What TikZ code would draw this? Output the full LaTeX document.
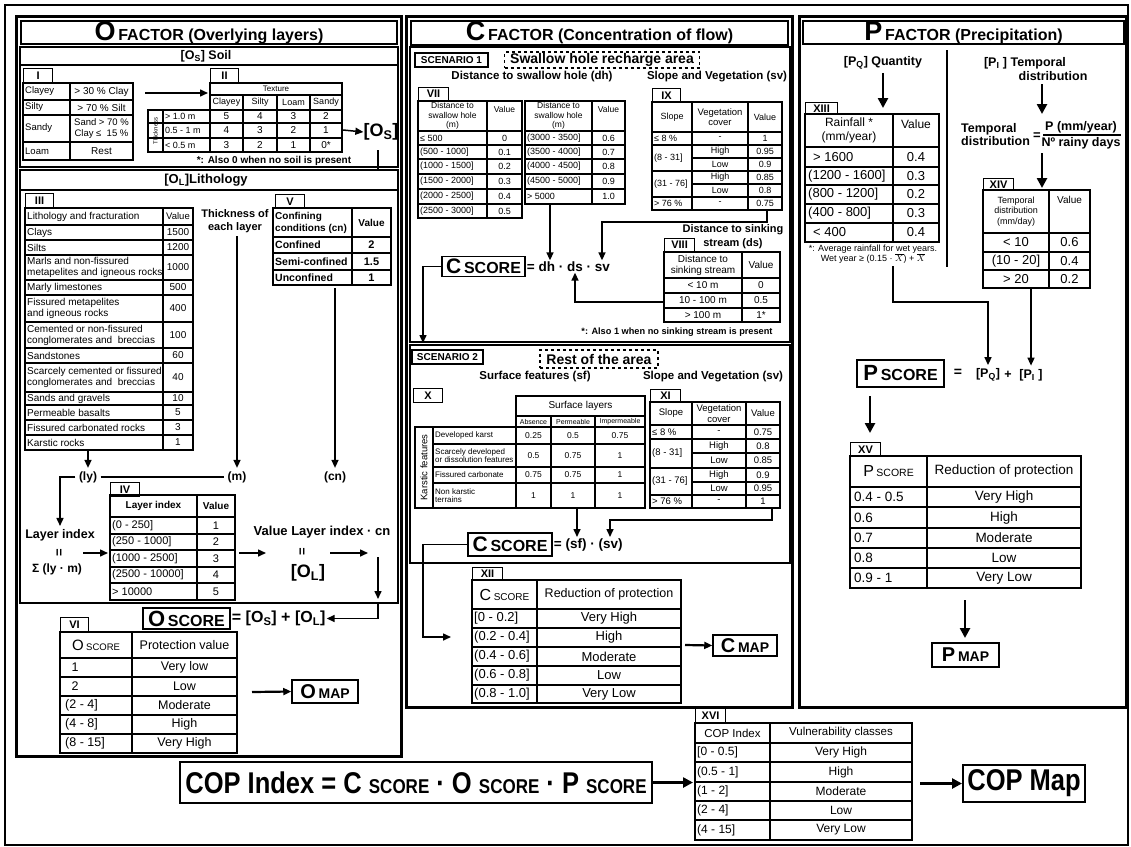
\documentclass[tikz,border=0pt]{standalone}
\usepackage{fontspec}
\setmainfont{Liberation Sans}
\usepackage{graphicx}
\usetikzlibrary{arrows.meta}
\newcounter{tcell}
\newcommand\tc[3][]{\stepcounter{tcell}\node[tx,#1] (tc\arabic{tcell}) at (#2) {#3};}
\begin{document}
\begin{tikzpicture}[x=1pt,y=-1pt,
  tx/.style={inner sep=0pt, align=center, font=\fontsize{9}{10}\selectfont},
  fs/.style={font=\fontsize{#1}{#1}\selectfont},
  ff/.style 2 args={font=\fontsize{#1}{#2}\selectfont},
  fb/.style={font=\bfseries\fontsize{#1}{#1}\selectfont},
  ffb/.style 2 args={font=\bfseries\fontsize{#1}{#2}\selectfont},
  W/.style={anchor=west},
  gl/.style={line width=1.1pt},
  panel/.style={line width=3pt},
  fr/.style={line width=1.5pt},
  tabl/.style={draw, line width=1.1pt, inner sep=0pt, anchor=north west, minimum height=14pt, font=\bfseries\fontsize{11}{11}\selectfont},
  arr/.style={line width=1.5pt, -{Triangle[length=8pt,width=7pt]}},
  tarr/.style={line width=2.8pt, -{Triangle[length=10pt,width=10pt]}},
  sbox/.style={draw, line width=1.5pt, inner sep=0pt},
]
\useasboundingbox (0,0) rectangle (1131,846);
\fill[white] (0,0) rectangle (1131,846);
\draw[line width=1.3pt] (5,5) rectangle (1128,845);
% panels
\draw[panel] (16,16) rectangle (401,756);
\draw[panel] (406,16) rectangle (792,707);
\draw[panel] (799,16) rectangle (1126,707);
\node[draw, line width=1.8pt, minimum width=376pt, minimum height=23pt, inner sep=0pt] (Otitle) at (209,32.5) {\bfseries{\fontsize{27}{27}\selectfont O} {\fontsize{16}{16}\selectfont FACTOR (Overlying layers)}};
\node[draw, line width=1.8pt, minimum width=377pt, minimum height=24pt, inner sep=0pt] (Ctitle) at (599.5,33) {\bfseries{\fontsize{27}{27}\selectfont C} {\fontsize{16}{16}\selectfont FACTOR (Concentration of flow)}};
\node[draw, line width=1.8pt, minimum width=321pt, minimum height=23pt, inner sep=0pt] (Ptitle) at (963.5,32.5) {\bfseries{\fontsize{27}{27}\selectfont P} {\fontsize{16}{16}\selectfont FACTOR (Precipitation)}};

% ================= O FACTOR =================
\draw[fr] (20,47) rectangle (398,167);
\draw[fr] (20,65) -- (398,65);
\node[fb=12.5] (soil) at (206,56) {[O\textsubscript{S}] Soil};
\draw[fr] (20,170) rectangle (398,603);
\draw[fr] (20,190) -- (398,190);
\node[fb=13] (litho) at (206,180) {[O\textsubscript{L}]Lithology};

% Table I
\node[tabl, minimum width=29pt] (tabI) at (23,68) {I};
\draw[gl] (23,83) rectangle (133,160) (70,83) -- (70,160) (23,100) -- (133,100) (23,115) -- (133,115) (23,142) -- (133,142);
\tc[W,fs=9.5]{25,91.5}{Clayey}
\tc[fs=10]{101.5,91.5}{> 30 \% Clay}
\tc[W,fs=9.5]{25,107.5}{Silty}
\tc[fs=10]{101.5,107.5}{> 70 \% Silt}
\tc[W,fs=9.5]{25,128.5}{Sandy}
\tc[ff={9.5}{11}]{101.5,128.5}{Sand > 70 \%\\Clay ≤ \ 15 \%}
\tc[W,fs=9.5]{25,151}{Loam}
\tc[fs=10]{101.5,151}{Rest}
\coordinate (a1s) at (145,93);
\coordinate (a1e) at (208,93);
\draw[arr] (a1s) -- (a1e);

% Table II
\node[tabl, minimum width=28pt] (tabII) at (210,68) {II};
\draw[gl] (210,83) rectangle (342,152) (210,95) -- (342,95) (210,110) -- (342,110) (148,123) -- (342,123) (148,138) -- (342,138) (148,110) rectangle (210,152) (163,110) -- (163,152) (243,95) -- (243,152) (277,95) -- (277,152) (310,95) -- (310,152);
\tc[fs=8]{276,89}{Texture}
\tc[fs=9]{226.5,102.5}{Clayey}
\tc[fs=9]{260,102.5}{Silty}
\tc[fs=9]{293.5,102.5}{Loam}
\tc[fs=9]{326,102.5}{Sandy}
\tc[rotate=90,fs=6]{155.5,131}{Thickness}
\tc[W,fs=9]{165,116.5}{> 1.0 m}
\tc[W,fs=9]{165,130.5}{0.5 - 1 m}
\tc[W,fs=9]{165,145}{< 0.5 m}
\tc[fs=10]{226.5,116.5}{5} \tc[fs=10]{260,116.5}{4} \tc[fs=10]{293.5,116.5}{3} \tc[fs=10]{326,116.5}{2}
\tc[fs=10]{226.5,130.5}{4} \tc[fs=10]{260,130.5}{3} \tc[fs=10]{293.5,130.5}{2} \tc[fs=10]{326,130.5}{1}
\tc[fs=10]{226.5,145}{3} \tc[fs=10]{260,145}{2} \tc[fs=10]{293.5,145}{1} \tc[fs=10]{326,145}{0*}
\node[fb=10] (fn1) at (274,161) {*: Also 0 when no soil is present};
\node[fb=18, inner sep=0pt] (OS) at (381,132) {[O\textsubscript{S}]};
\coordinate (a2s) at (343,130);
\draw[arr] (a2s) -- (OS.west);
\coordinate (os1) at (378,150);
\coordinate (os2) at (378,170);
\draw[line width=1.5pt] (os1) -- (os2);

% Table III
\node[tabl, minimum width=28pt] (tabIII) at (25,193) {III};
\draw[gl] (25,208) rectangle (193,450) (163,208) -- (163,450);
\foreach \yy in {225,240,255,280,295,322,348,363,392,405,420,435} \draw[gl] (25,\yy) -- (193,\yy);
\tc[W,fs=10]{27,216.5}{Lithology and fracturation}
\tc[fs=9.5]{178,216.5}{Value}
\tc[W,fs=10]{27,232.5}{Clays} \tc[fs=10]{178,232.5}{1500}
\tc[W,fs=10]{27,247.5}{Silts} \tc[fs=10]{178,247.5}{1200}
\tc[W,ff={10}{11},align=left]{27,267.5}{Marls and non-fissured\\metapelites and igneous rocks} \tc[fs=10]{178,267.5}{1000}
\tc[W,fs=10]{27,287.5}{Marly limestones} \tc[fs=10]{178,287.5}{500}
\tc[W,ff={10}{11},align=left]{27,308.5}{Fissured metapelites\\and igneous rocks} \tc[fs=10]{178,308.5}{400}
\tc[W,ff={10}{11},align=left]{27,335}{Cemented or non-fissured\\conglomerates and \ breccias} \tc[fs=10]{178,335}{100}
\tc[W,fs=10]{27,355.5}{Sandstones} \tc[fs=10]{178,355.5}{60}
\tc[W,ff={10}{11},align=left]{27,377.5}{Scarcely cemented or fissured\\conglomerates and \ breccias} \tc[fs=10]{178,377.5}{40}
\tc[W,fs=10]{27,398.5}{Sands and gravels} \tc[fs=10]{178,398.5}{10}
\tc[W,fs=10]{27,412.5}{Permeable basalts} \tc[fs=10]{178,412.5}{5}
\tc[W,fs=10]{27,427.5}{Fissured carbonated rocks} \tc[fs=10]{178,427.5}{3}
\tc[W,fs=10]{27,442.5}{Karstic rocks} \tc[fs=10]{178,442.5}{1}

\node[ffb={11}{13}, align=center] (thick) at (235,221) {Thickness of\\each layer};

% Table V
\node[tabl, minimum width=29pt] (tabV) at (275,194) {V};
\draw[gl] (273,208) rectangle (391,285) (352,208) -- (352,285) (273,237) -- (391,237) (273,253) -- (391,253) (273,270) -- (391,270);
\tc[W,ffb={10}{12},align=left]{275,222.5}{Confining\\conditions (cn)}
\tc[fb=10]{371.5,222.5}{Value}
\tc[W,fb=10.5]{275,245}{Confined} \tc[fb=11]{371.5,245}{2}
\tc[W,fb=10.5]{275,261.5}{Semi-confined} \tc[fb=11]{371.5,261.5}{1.5}
\tc[W,fb=10.5]{275,277.5}{Unconfined} \tc[fb=11]{371.5,277.5}{1}

\node[fb=12] (ly) at (88,477) {(ly)};
\node[fb=12] (m) at (237,477) {(m)};
\node[fb=12] (cn) at (335,477) {(cn)};
\coordinate (iiib) at (88,450);
\coordinate (vb) at (335,288);
\draw[arr] (iiib) -- (ly.north);
\draw[arr] (thick.south -| m.north) -- (m.north);
\draw[arr] (vb) -- (cn.north);
\draw[line width=1.5pt] (ly.east) -- (m.west);
\node[fb=12.5, inner sep=3pt] (lidx) at (60,535) {Layer index};
\draw[arr] (ly.west) -| (lidx.north);
\node[fb=13, rotate=90] (eq1) at (60,553) {=};
\node[fb=12] (sigma) at (57,569) {Σ (ly · m)};
\coordinate (li-a) at (83,553);
\coordinate (li-b) at (108,553);
\draw[arr] (li-a) -- (li-b);

% Table IV
\node[tabl, minimum width=29pt] (tabIV) at (110,482) {IV};
\draw[gl] (110,495) rectangle (235,600) (197,495) -- (197,600);
\foreach \yy in {517,534,550,567,583} \draw[gl] (110,\yy) -- (235,\yy);
\tc[fb=10]{153.5,506}{Layer index} \tc[fb=10]{216,506}{Value}
\tc[W,fs=11]{112,525.5}{(0 - 250]} \tc[fs=11]{216,525.5}{1}
\tc[W,fs=11]{112,542}{(250 - 1000]} \tc[fs=11]{216,542}{2}
\tc[W,fs=11]{112,558.5}{(1000 - 2500]} \tc[fs=11]{216,558.5}{3}
\tc[W,fs=11]{112,575}{(2500 - 10000]} \tc[fs=11]{216,575}{4}
\tc[W,fs=11]{112,591.5}{> 10000} \tc[fs=11]{216,591.5}{5}
\coordinate (iv-a) at (239,553);
\coordinate (iv-b) at (266,553);
\draw[arr] (iv-a) -- (iv-b);
\node[fb=13] (vli) at (322,532) {Value Layer index · cn};
\node[fb=13, rotate=90] (eq2) at (303,552) {=};
\node[fb=18] (OL) at (308,573) {[O\textsubscript{L}]};
\coordinate (ol-a) at (330,553);
\coordinate (ol-b) at (368,553);
\draw[arr] (ol-a) -- (ol-b);
\coordinate (ol-c) at (378,557);
\coordinate (ol-d) at (378,599);
\draw[arr] (ol-c) -- (ol-d);
\coordinate (ol-e) at (378,604);

\node[sbox, minimum width=87pt, minimum height=21pt] (Oscore) at (186.5,618.5) {\bfseries{\fontsize{22}{22}\selectfont O} {\fontsize{16}{16}\selectfont SCORE}};
\node[fb=16, anchor=west, inner sep=1pt] (OSeq) at (Oscore.east) {= [O\textsubscript{S}] + [O\textsubscript{L}]};
\draw[arr] (ol-e) |- (OSeq.east);

% Table VI
\node[tabl, minimum width=28pt] (tabVI) at (60,617) {VI};
\draw[gl] (60,632) rectangle (237,753) (132,632) -- (132,753);
\foreach \yy in {658,677,696,715,734} \draw[gl] (60,\yy) -- (237,\yy);
\tc{96,645}{{\fontsize{15}{15}\selectfont O} {\fontsize{9.5}{9.5}\selectfont SCORE}}
\tc[fs=12.5]{184.5,645}{Protection value}
\tc[fs=12.5]{75,667.5}{1} \tc[fs=12.5]{184.5,667.5}{Very low}
\tc[fs=12.5]{75,686.5}{2} \tc[fs=12.5]{184.5,686.5}{Low}
\tc[W,fs=12.5]{65,705.5}{(2 - 4]} \tc[fs=12.5]{184.5,705.5}{Moderate}
\tc[W,fs=12.5]{65,724.5}{(4 - 8]} \tc[fs=12.5]{184.5,724.5}{High}
\tc[W,fs=12.5]{65,743.5}{(8 - 15]} \tc[fs=12.5]{184.5,743.5}{Very High}
\node[sbox, minimum width=66pt, minimum height=23pt] (Omap) at (325,691.5) {\bfseries{\fontsize{20}{20}\selectfont O} {\fontsize{14}{14}\selectfont MAP}};
\coordinate (vi-out) at (252,692);
\draw[arr, line width=2.2pt] (vi-out) -- (Omap.west);

% ================= C FACTOR =================
\draw[fr] (410,47) rectangle (790,342);
\node[draw, line width=1.2pt, fb=10, minimum width=73pt, minimum height=14pt, inner sep=0pt] (sc1) at (451.5,60) {SCENARIO 1};
\node[draw, dashed, line width=1.2pt, fb=14, minimum width=195pt, minimum height=16pt, inner sep=0pt] (swh) at (602,60) {Swallow hole recharge area};
\node[fb=11.5] (dhh) at (532,77) {Distance to swallow hole (dh)};
\node[fb=11.5] (svh) at (717,77) {Slope and Vegetation (sv)};

% Table VII
\node[tabl, minimum width=30pt, minimum height=13pt] (tabVII) at (418,87) {VII};
\draw[gl] (418,101) rectangle (522,218) (487,101) -- (487,218);
\foreach \yy in {131,145,159,174,189,204} \draw[gl] (418,\yy) -- (522,\yy);
\draw[gl] (525,101) rectangle (625,204) (592,101) -- (592,204);
\foreach \yy in {131,145,159,174,189} \draw[gl] (525,\yy) -- (625,\yy);
\tc[ff={8.5}{9.5}]{452.5,116}{Distance to\\swallow hole\\(m)} \tc[fs=8.5]{504.5,109}{Value}
\tc[ff={8.5}{9.5}]{558.5,116}{Distance to\\swallow hole\\(m)} \tc[fs=8.5]{608.5,109}{Value}
\tc[W,fs=9]{420,138}{≤ 500} \tc[fs=9]{504.5,138}{0}
\tc[W,fs=9]{420,152}{(500 - 1000]} \tc[fs=9]{504.5,152}{0.1}
\tc[W,fs=9]{420,166.5}{(1000 - 1500]} \tc[fs=9]{504.5,166.5}{0.2}
\tc[W,fs=9]{420,181.5}{(1500 - 2000]} \tc[fs=9]{504.5,181.5}{0.3}
\tc[W,fs=9]{420,196.5}{(2000 - 2500]} \tc[fs=9]{504.5,196.5}{0.4}
\tc[W,fs=9]{420,211}{(2500 - 3000]} \tc[fs=9]{504.5,211}{0.5}
\tc[W,fs=9]{527,138}{(3000 - 3500]} \tc[fs=9]{608.5,138}{0.6}
\tc[W,fs=9]{527,152}{(3500 - 4000]} \tc[fs=9]{608.5,152}{0.7}
\tc[W,fs=9]{527,166.5}{(4000 - 4500]} \tc[fs=9]{608.5,166.5}{0.8}
\tc[W,fs=9]{527,181.5}{(4500 - 5000]} \tc[fs=9]{608.5,181.5}{0.9}
\tc[W,fs=9]{527,196.5}{> 5000} \tc[fs=9]{608.5,196.5}{1.0}

% Table IX
\node[tabl, minimum width=28pt] (tabIX) at (652,88) {IX};
\draw[gl] (652,102) rectangle (782,210) (692,102) -- (692,210) (748,102) -- (748,210);
\foreach \yy in {132,145,171,197} \draw[gl] (652,\yy) -- (782,\yy);
\foreach \yy in {158,184} \draw[gl] (692,\yy) -- (782,\yy);
\tc[fs=9]{672,117}{Slope} \tc[ff={9.5}{10.5}]{720,117}{Vegetation\\cover} \tc[fs=9]{765,117}{Value}
\tc[W,fs=9]{654,138.5}{≤ 8 \%} \tc[fs=9]{720,138.5}{-} \tc[fs=9]{765,138.5}{1}
\tc[W,fs=9]{654,158}{(8 - 31]} \tc[fs=9]{720,151.5}{High} \tc[fs=9]{765,151.5}{0.95}
\tc[fs=9]{720,164.5}{Low} \tc[fs=9]{765,164.5}{0.9}
\tc[W,fs=9]{654,184}{(31 - 76]} \tc[fs=9]{720,177.5}{High} \tc[fs=9]{765,177.5}{0.85}
\tc[fs=9]{720,190.5}{Low} \tc[fs=9]{765,190.5}{0.8}
\tc[W,fs=9]{654,203.5}{> 76 \%} \tc[fs=9]{720,203.5}{-} \tc[fs=9]{765,203.5}{0.75}

\node[fb=11] (dsh1) at (733,230) {Distance to sinking};
\node[fb=11] (dsh2) at (733,244) {stream (ds)};
% Table VIII
\node[tabl, minimum width=30pt, minimum height=13pt] (tabVIII) at (664,238) {VIII};
\draw[gl] (664,252) rectangle (780,322) (742,252) -- (742,322) (664,278) -- (780,278) (664,293) -- (780,293) (664,308) -- (780,308);
\tc[ff={10}{11}]{703,265}{Distance to\\sinking stream} \tc[fs=10]{761,265}{Value}
\tc[fs=10]{703,285.5}{< 10 m} \tc[fs=10]{761,285.5}{0}
\tc[fs=10]{703,300.5}{10 - 100 m} \tc[fs=10]{761,300.5}{0.5}
\tc[fs=10]{703,315}{> 100 m} \tc[fs=10]{761,315}{1*}

\node[sbox, minimum width=83pt, minimum height=20pt] (CS1) at (483.5,266.5) {\bfseries{\fontsize{21}{21}\selectfont C} {\fontsize{16}{16}\selectfont SCORE}};
\node[fb=13.5, anchor=west, inner sep=1pt] (CS1eq) at (CS1.east) {= dh · ds · sv};
\coordinate (viib) at (550,204);
\draw[arr] (viib) -- (viib |- CS1eq.north);
\coordinate (ixb) at (767,210);
\coordinate (ixk) at (767,222);
\coordinate (svk) at (602,222);
\draw[arr] (ixb) -- (ixk) -- (svk) -- (svk |- CS1eq.north);
\coordinate (viiiw) at (664,302);
\coordinate (dsk) at (575,302);
\draw[arr] (viiiw) -- (dsk) -- (dsk |- CS1eq.south);
\coordinate (c1k) at (423,266.5);
\coordinate (c1e) at (423,343);
\draw[arr] (CS1.west) -- (c1k) -- (c1e);
\node[fb=9.2] (fn2) at (677,332) {*: Also 1 when no sinking stream is present};

% Scenario 2
\draw[fr] (410,345) rectangle (790,563);
\node[draw, line width=1.2pt, fb=10, minimum width=71pt, minimum height=14pt, inner sep=0pt] (sc2) at (447.5,357) {SCENARIO 2};
\node[draw, dashed, line width=1.2pt, fb=14, minimum width=118pt, minimum height=18pt, inner sep=0pt] (rest) at (599,359) {Rest of the area};
\node[fb=11.5] (sfh) at (535,377) {Surface features (sf)};
\node[fb=11.5] (svh2) at (713,377) {Slope and Vegetation (sv)};

% Table X
\node[tabl, minimum width=29pt] (tabX) at (413,388) {X};
\draw[gl] (516,396) rectangle (645,427) (516,416) -- (645,416) (551,416) -- (551,508) (595,416) -- (595,508) (415,427) rectangle (645,508) (433,427) -- (433,508) (516,427) -- (516,508);
\foreach \yy in {444,467,483} \draw[gl] (433,\yy) -- (645,\yy);
\tc[fs=10]{580.5,406}{Surface layers}
\tc[fs=7]{533.5,421.5}{Absence} \tc[fs=7]{573,421.5}{Permeable} \tc[fs=7]{620,421.5}{Impermeable}
\tc[rotate=90,fs=9.5]{424,467.5}{Karstic features}
\tc[W,fs=8]{435,435.5}{Developed karst}
\tc[W,ff={8}{8.5},align=left]{435,455.5}{Scarcely developed\\or dissolution features}
\tc[W,fs=8]{435,475}{Fissured carbonate}
\tc[W,ff={8}{8.5},align=left]{435,495.5}{Non karstic\\terrains}
\tc[fs=8.5]{533.5,435.5}{0.25} \tc[fs=8.5]{573,435.5}{0.5} \tc[fs=8.5]{620,435.5}{0.75}
\tc[fs=8.5]{533.5,455.5}{0.5} \tc[fs=8.5]{573,455.5}{0.75} \tc[fs=8.5]{620,455.5}{1}
\tc[fs=8.5]{533.5,475}{0.75} \tc[fs=8.5]{573,475}{0.75} \tc[fs=8.5]{620,475}{1}
\tc[fs=8.5]{533.5,495.5}{1} \tc[fs=8.5]{573,495.5}{1} \tc[fs=8.5]{620,495.5}{1}

% Table XI
\node[tabl, minimum width=30pt, minimum height=13pt] (tabXI) at (650,389) {XI};
\draw[gl] (650,402) rectangle (780,508) (692,402) -- (692,508) (746,402) -- (746,508);
\foreach \yy in {425,439,468,495} \draw[gl] (650,\yy) -- (780,\yy);
\foreach \yy in {453,482} \draw[gl] (692,\yy) -- (780,\yy);
\tc[fs=9.5]{671,413.5}{Slope} \tc[ff={9.5}{10.5}]{719,413.5}{Vegetation\\cover} \tc[fs=9.5]{763,413.5}{Value}
\tc[W,fs=9.5]{652,432}{≤ 8 \%} \tc[fs=9.5]{719,432}{-} \tc[fs=9.5]{763,432}{0.75}
\tc[W,fs=9.5]{652,453.5}{(8 - 31]} \tc[fs=9.5]{719,446}{High} \tc[fs=9.5]{763,446}{0.8}
\tc[fs=9.5]{719,460.5}{Low} \tc[fs=9.5]{763,460.5}{0.85}
\tc[W,fs=9.5]{652,481.5}{(31 - 76]} \tc[fs=9.5]{719,475}{High} \tc[fs=9.5]{763,475}{0.9}
\tc[fs=9.5]{719,488.5}{Low} \tc[fs=9.5]{763,488.5}{0.95}
\tc[W,fs=9.5]{652,501.5}{> 76 \%} \tc[fs=9.5]{719,501.5}{-} \tc[fs=9.5]{763,501.5}{1}

\node[sbox, minimum width=84pt, minimum height=23pt] (CS2) at (510,544.5) {\bfseries{\fontsize{21}{21}\selectfont C} {\fontsize{16}{16}\selectfont SCORE}};
\node[fb=13.5, anchor=west, inner sep=1pt] (CS2eq) at (CS2.east) {= (sf) · (sv)};
\coordinate (xb) at (577,508);
\draw[arr] (xb) -- (xb |- CS2eq.north);
\coordinate (xib) at (772,508);
\coordinate (xik) at (772,520);
\coordinate (sv2k) at (610,520);
\draw[arr] (xib) -- (xik) -- (sv2k) -- (sv2k |- CS2eq.north);
\coordinate (c2k) at (423,544.5);
\coordinate (c2d) at (423,637);
\coordinate (xii-in) at (451,637);
\draw[arr] (CS2.west) -- (c2k) -- (c2d) -- (xii-in);

% Table XII
\node[tabl, minimum width=30pt, minimum height=13pt] (tabXII) at (472,567) {XII};
\draw[gl] (472,580) rectangle (681,703) (537,580) -- (537,703);
\foreach \yy in {609,628,647,666,685} \draw[gl] (472,\yy) -- (681,\yy);
\tc{504.5,594.5}{{\fontsize{16}{16}\selectfont C} {\fontsize{10}{10}\selectfont SCORE}}
\tc[fs=12.5]{609,594.5}{Reduction of protection}
\tc[W,fs=13]{474,618.5}{[0 - 0.2]} \tc[fs=13]{609,618.5}{Very High}
\tc[W,fs=13]{474,637.5}{(0.2 - 0.4]} \tc[fs=13]{609,637.5}{High}
\tc[W,fs=13]{474,656.5}{(0.4 - 0.6]} \tc[fs=13]{609,656.5}{Moderate}
\tc[W,fs=13]{474,675.5}{(0.6 - 0.8]} \tc[fs=13]{609,675.5}{Low}
\tc[W,fs=13]{474,694}{(0.8 - 1.0]} \tc[fs=13]{609,694}{Very Low}
\node[sbox, minimum width=64pt, minimum height=21pt] (Cmap) at (745,645.5) {\bfseries{\fontsize{20}{20}\selectfont C} {\fontsize{14}{14}\selectfont MAP}};
\coordinate (xii-out) at (685,645);
\draw[arr, line width=2.2pt] (xii-out) -- (Cmap.west);

% ================= P FACTOR =================
\node[fb=12.5] (PQh) at (883,63) {[P\textsubscript{Q}] Quantity};
\coordinate (pq2) at (883,108);
\draw[tarr] (PQh.south) -- (pq2);
\coordinate (sepT) at (947,50);
\coordinate (sepB) at (947,267);
\draw[line width=1.5pt] (sepT) -- (sepB);
\node[fb=12.5] (PIh1) at (1025,63) {[P\textsubscript{I} ] Temporal};
\node[fb=12.5] (PIh2) at (1053,76) {distribution};
\coordinate (t1a) at (1042,84);
\coordinate (t1b) at (1042,114);
\draw[tarr] (t1a) -- (t1b);
\node[ffb={12.5}{13}, align=left, anchor=west, inner sep=0pt] (tdist) at (961,135) {Temporal\\distribution};
\node[fb=13, inner sep=0pt] (teq) at (1037,136) {=};
\node[fb=12.5, inner sep=0pt] (fnum) at (1081,127) {P (mm/year)};
\node[fb=12.5, inner sep=0pt] (fden) at (1081,143) {Nº rainy days};
\coordinate (fb1) at (1043,135);
\coordinate (fb2) at (1121,135);
\draw[line width=1.2pt] (fb1) -- (fb2);
\coordinate (t2a) at (1042,153);
\coordinate (t2b) at (1042,188);
\draw[tarr] (t2a) -- (t2b);

% Table XIII
\node[tabl, minimum width=32pt, minimum height=12pt] (tabXIII) at (805,102) {XIII};
\draw[gl] (805,114) rectangle (939,242) (893,114) -- (893,242);
\foreach \yy in {147,167,185,204,223} \draw[gl] (805,\yy) -- (939,\yy);
\tc[ff={12}{14}]{849,130.5}{Rainfall *\\(mm/year)} \tc[fs=12]{916,124}{Value}
\tc[W,fs=13]{813,157}{> 1600} \tc[fs=13]{916,157}{0.4}
\tc[W,fs=13]{808,176}{(1200 - 1600]} \tc[fs=13]{916,176}{0.3}
\tc[W,fs=13]{808,194.5}{(800 - 1200]} \tc[fs=13]{916,194.5}{0.2}
\tc[W,fs=13]{808,213.5}{(400 - 800]} \tc[fs=13]{916,213.5}{0.3}
\tc[W,fs=13]{813,232.5}{< 400} \tc[fs=13]{916,232.5}{0.4}
\node[ff={9}{10.5}, align=center, inner sep=0pt] (fn3) at (873,254) {*: Average rainfall for wet years.\\Wet year ≥ (0.15 · $\overline{X}$) + $\overline{X}$};

% Table XIV
\node[tabl, minimum width=30pt, minimum height=12pt] (tabXIV) at (983,178) {XIV};
\draw[gl] (983,190) rectangle (1090,288) (1049,190) -- (1049,288) (983,233) -- (1090,233) (983,252) -- (1090,252) (983,270) -- (1090,270);
\tc[ff={9}{10.5}]{1016,211.5}{Temporal\\distribution\\(mm/day)} \tc[fs=10]{1069.5,200}{Value}
\tc[fs=13]{1016,242.5}{< 10} \tc[fs=13]{1069.5,242.5}{0.6}
\tc[fs=13]{1016,261}{(10 - 20]} \tc[fs=13]{1069.5,261}{0.4}
\tc[fs=13]{1016,279}{> 20} \tc[fs=13]{1069.5,279}{0.2}

\node[sbox, line width=1.8pt, minimum width=87pt, minimum height=27pt] (Pscore) at (900.5,373.5) {\bfseries{\fontsize{22}{22}\selectfont P} {\fontsize{16}{16}\selectfont SCORE}};
\node[fb=14] (peq) at (958,373) {=};
\node[fb=12.5] (PQf) at (988,375) {[P\textsubscript{Q}]};
\node[fb=12.5] (pplus) at (1008,375) {+};
\node[fb=12.5] (PIf) at (1031,375) {[P\textsubscript{I} ]};
\coordinate (pq-a) at (893,266);
\coordinate (pq-k1) at (893,302);
\coordinate (pq-k2) at (988,302);
\draw[arr] (pq-a) -- (pq-k1) -- (pq-k2) -- (PQf.north);
\coordinate (pi-a) at (1031,288);
\draw[arr] (pi-a) -- (PIf.north);
\coordinate (ps-a) at (870,396);
\coordinate (ps-b) at (870,433);
\draw[tarr] (ps-a) -- (ps-b);

% Table XV
\node[tabl, minimum width=30pt] (tabXV) at (850,442) {XV};
\draw[gl] (850,456) rectangle (1081,588) (927,456) -- (927,588);
\foreach \yy in {487,507,528,548,568} \draw[gl] (850,\yy) -- (1081,\yy);
\tc{888.5,471.5}{{\fontsize{16}{16}\selectfont P} {\fontsize{10.5}{10.5}\selectfont SCORE}}
\tc[fs=13.5]{1004,471.5}{Reduction of protection}
\tc[W,fs=13.5]{854,497}{0.4 - 0.5} \tc[fs=13.5]{1004,497}{Very High}
\tc[W,fs=13.5]{854,517.5}{0.6} \tc[fs=13.5]{1004,517.5}{High}
\tc[W,fs=13.5]{854,538}{0.7} \tc[fs=13.5]{1004,538}{Moderate}
\tc[W,fs=13.5]{854,558}{0.8} \tc[fs=13.5]{1004,558}{Low}
\tc[W,fs=13.5]{854,578}{0.9 - 1} \tc[fs=13.5]{1004,578}{Very Low}
\coordinate (xvb) at (965,600);
\coordinate (xvm) at (965,638);
\draw[tarr] (xvb) -- (xvm);
\node[sbox, minimum width=67pt, minimum height=24pt] (Pmap) at (965.5,655) {\bfseries{\fontsize{20}{20}\selectfont P} {\fontsize{14}{14}\selectfont MAP}};

% ================= COP =================
\node[draw, line width=2pt, minimum width=472pt, minimum height=41pt, inner sep=0pt] (COP) at (416,782.5) {\scalebox{0.85}[1]{\bfseries\fontsize{30}{30}\selectfont COP Index = C {\fontsize{20}{20}\selectfont SCORE} · O {\fontsize{20}{20}\selectfont SCORE} · P {\fontsize{20}{20}\selectfont SCORE}}};
\node[tabl, minimum width=30pt] (tabXVI) at (695,708) {XVI};
\draw[gl] (695,723) rectangle (912,840) (770,723) -- (770,840);
\foreach \yy in {743,762,782,801,820} \draw[gl] (695,\yy) -- (912,\yy);
\tc[fs=11.5]{732.5,733}{COP Index} \tc[fs=11.5]{841,733}{Vulnerability classes}
\tc[W,fs=12]{697,752.5}{[0 - 0.5]} \tc[fs=12]{841,752.5}{Very High}
\tc[W,fs=12]{697,772}{(0.5 - 1]} \tc[fs=12]{841,772}{High}
\tc[W,fs=12]{697,791.5}{(1 - 2]} \tc[fs=12]{841,791.5}{Moderate}
\tc[W,fs=12]{697,810.5}{(2 - 4]} \tc[fs=12]{841,810.5}{Low}
\tc[W,fs=12]{697,830}{(4 - 15]} \tc[fs=12]{841,830}{Very Low}
\coordinate (xvi-in) at (693,782.5);
\draw[tarr] (COP.east) -- (xvi-in);
\node[draw, line width=2pt, minimum width=122pt, minimum height=37pt, inner sep=0pt] (COPmap) at (1024,783.5) {\scalebox{0.85}[1]{\bfseries\fontsize{30}{30}\selectfont COP Map}};
\coordinate (xvi-out) at (920,783.5);
\draw[tarr] (xvi-out) -- (COPmap.west);
\end{tikzpicture}
\end{document}
